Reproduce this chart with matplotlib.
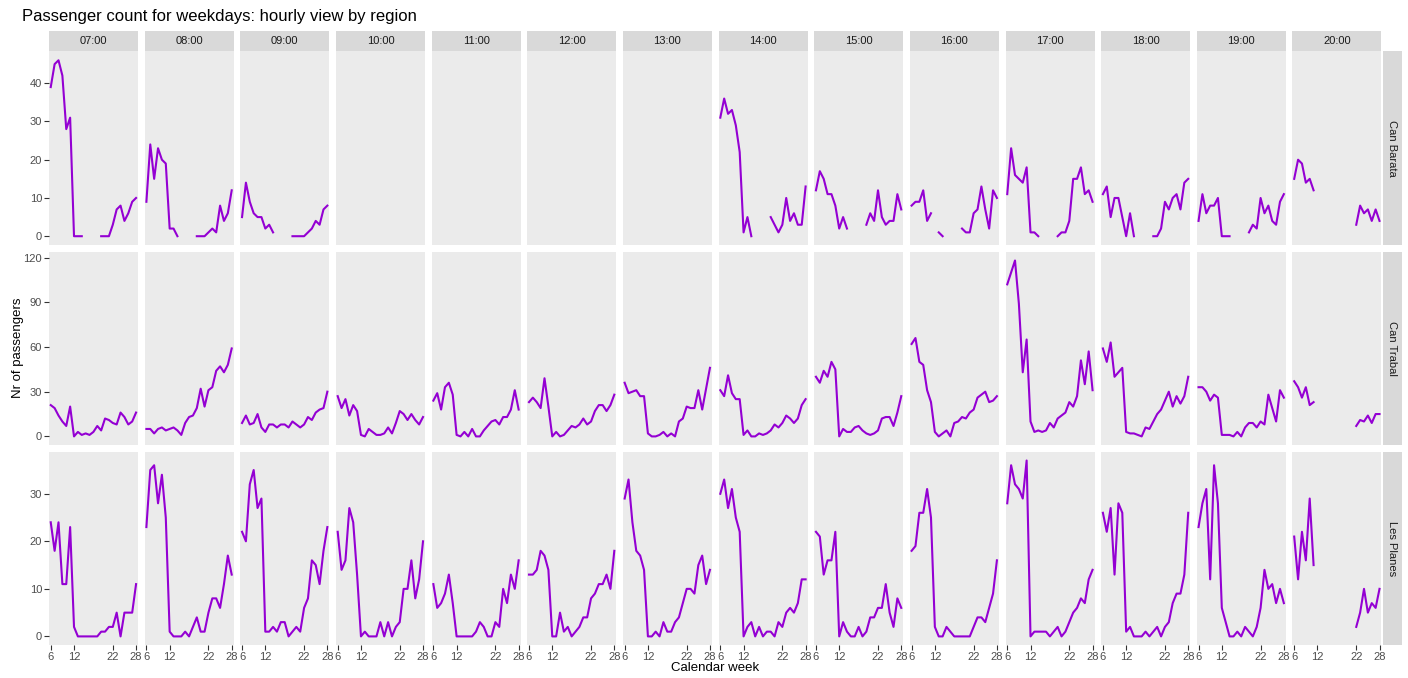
import numpy as np
import matplotlib
matplotlib.use('Agg')
import matplotlib.pyplot as plt

plt.rcParams['font.family'] = ['Liberation Sans', 'DejaVu Sans']

nan = np.nan

weeks = list(range(6, 29))
hours = ["07:00", "08:00", "09:00", "10:00", "11:00", "12:00", "13:00",
         "14:00", "15:00", "16:00", "17:00", "18:00", "19:00", "20:00"]
regions = ["Can Barata", "Can Trabal", "Les Planes"]

GAP4 = [nan] * 4
GAP10 = [nan] * 10
EMPTY = [nan] * 23

# one list per hour, values for weeks 6..28
can_barata = [
    [39, 45, 46, 42, 28, 31, 0, 0, 0] + GAP4 + [0, 0, 0, 3, 7, 8, 4, 6, 9, 10],
    [9, 24, 15, 23, 20, 19, 2, 2, 0] + GAP4 + [0, 0, 0, 1, 2, 1, 8, 4, 6, 12],
    [5, 14, 9, 6, 5, 5, 2, 3, 1] + GAP4 + [0, 0, 0, 0, 1, 2, 4, 3, 7, 8],
    EMPTY, EMPTY, EMPTY, EMPTY,
    [31, 36, 32, 33, 29, 22, 1, 5, 0] + GAP4 + [5, 3, 1, 3, 10, 4, 6, 3, 3, 13],
    [12, 17, 15, 11, 11, 8, 2, 5, 2] + GAP4 + [3, 6, 4, 12, 5, 3, 4, 4, 11, 7],
    [8, 9, 9, 12, 4, 6, nan, 1, 0] + GAP4 + [2, 1, 1, 6, 7, 13, 7, 2, 12, 10],
    [11, 23, 16, 15, 14, 18, 1, 1, 0] + GAP4 + [0, 1, 1, 4, 15, 15, 18, 11, 12, 9],
    [11, 13, 5, 10, 10, 5, 0, 6, 0] + GAP4 + [0, 0, 2, 9, 7, 10, 11, 7, 14, 15],
    [4, 11, 6, 8, 8, 10, 0, 0, 0] + GAP4 + [1, 3, 2, 10, 6, 8, 4, 3, 9, 11],
    [15, 20, 19, 14, 15, 12] + GAP10 + [3, 8, 6, 7, 4, 7, 4],
]

can_trabal = [
    [21, 19, 14, 10, 7, 20, 0, 3, 1, 2, 1, 3, 7, 4, 12, 11, 9, 8, 16, 13, 8, 10, 16],
    [5, 5, 2, 5, 6, 4, 5, 6, 4, 1, 9, 13, 14, 19, 32, 20, 31, 33, 44, 47, 43, 48, 59],
    [9, 14, 8, 9, 15, 6, 3, 8, 8, 6, 8, 8, 6, 10, 8, 6, 8, 13, 11, 16, 18, 19, 30],
    [27, 19, 25, 14, 21, 17, 1, 0, 5, 3, 1, 1, 2, 6, 2, 9, 17, 15, 11, 15, 11, 8, 13],
    [24, 29, 18, 33, 36, 28, 1, 0, 3, 0, 5, 0, 0, 4, 7, 10, 11, 8, 13, 13, 18, 31, 18],
    [23, 26, 23, 19, 39, 20, 0, 3, 0, 1, 4, 7, 6, 8, 12, 8, 10, 17, 21, 21, 17, 21, 28],
    [36, 29, 30, 31, 27, 27, 2, 0, 0, 1, 3, 0, 2, 0, 10, 12, 20, 19, 19, 31, 18, 32, 46],
    [31, 27, 41, 29, 25, 25, 1, 4, 0, 0, 2, 1, 2, 4, 8, 6, 9, 14, 12, 9, 12, 21, 25],
    [40, 36, 44, 40, 50, 45, 0, 5, 3, 3, 6, 7, 4, 2, 1, 2, 4, 12, 13, 13, 7, 16, 27],
    [62, 66, 50, 48, 31, 23, 3, 0, 2, 4, 0, 9, 10, 13, 12, 16, 18, 26, 28, 30, 23, 24, 27],
    [102, 110, 118, 89, 43, 65, 10, 3, 4, 3, 4, 9, 6, 12, 14, 16, 23, 20, 27, 51, 35, 57, 31],
    [59, 50, 63, 40, 43, 46, 3, 2, 2, 1, 0, 6, 5, 10, 15, 18, 24, 30, 20, 27, 22, 27, 40],
    [33, 33, 30, 24, 28, 26, 1, 1, 1, 0, 3, 0, 6, 9, 9, 6, 10, 8, 28, 19, 10, 31, 26],
    [37, 33, 26, 33, 21, 23] + GAP10 + [7, 11, 10, 14, 9, 15, 15],
]

les_planes = [
    [24, 18, 24, 11, 11, 23, 2, 0, 0, 0, 0, 0, 0, 1, 1, 2, 2, 5, 0, 5, 5, 5, 11],
    [23, 35, 36, 28, 34, 25, 1, 0, 0, 0, 1, 0, 2, 4, 1, 1, 5, 8, 8, 6, 11, 17, 13],
    [22, 20, 32, 35, 27, 29, 1, 1, 2, 1, 3, 3, 0, 1, 2, 1, 6, 8, 16, 15, 11, 18, 23],
    [22, 14, 16, 27, 24, 13, 0, 1, 0, 0, 0, 3, 0, 3, 0, 2, 3, 10, 10, 16, 8, 12, 20],
    [11, 6, 7, 9, 13, 7, 0, 0, 0, 0, 0, 1, 3, 2, 0, 0, 3, 2, 10, 7, 13, 10, 16],
    [13, 13, 14, 18, 17, 14, 0, 0, 5, 1, 2, 0, 1, 2, 4, 4, 8, 9, 11, 11, 13, 10, 18],
    [29, 33, 24, 18, 17, 14, 0, 0, 1, 0, 3, 1, 1, 3, 4, 7, 10, 10, 9, 15, 17, 11, 14],
    [30, 33, 27, 31, 25, 22, 0, 2, 3, 0, 2, 0, 1, 1, 0, 3, 2, 5, 6, 5, 7, 12, 12],
    [22, 21, 13, 16, 16, 22, 0, 3, 1, 0, 0, 2, 0, 1, 4, 4, 6, 6, 11, 5, 2, 8, 6],
    [18, 19, 26, 26, 31, 25, 2, 0, 0, 2, 1, 0, 0, 0, 0, 0, 2, 4, 4, 3, 6, 9, 16],
    [28, 36, 32, 31, 29, 37, 0, 1, 1, 1, 1, 0, 1, 2, 0, 1, 3, 5, 6, 8, 7, 12, 14],
    [26, 22, 27, 13, 28, 26, 1, 2, 0, 0, 0, 1, 0, 1, 2, 0, 2, 3, 7, 9, 9, 13, 26],
    [23, 28, 31, 12, 36, 28, 6, 3, 0, 0, 1, 0, 2, 1, 0, 2, 6, 14, 10, 11, 7, 10, 7],
    [21, 12, 22, 16, 29, 15] + GAP10 + [2, 5, 10, 5, 7, 6, 10],
]

data = [can_barata, can_trabal, les_planes]
yticks = [[0, 10, 20, 30, 40], [0, 30, 60, 90, 120], [0, 10, 20, 30]]
xticks = [6, 12, 22, 28]

for reg in data:
    for series in reg:
        assert len(series) == len(weeks), len(series)

# Layout (pixels)
W, H = 1408, 678
fig = plt.figure(figsize=(W / 100, H / 100), dpi=100)

PANEL_COLOR = "#EBEBEB"
STRIP_COLOR = "#D9D9D9"
LINE_COLOR = "#9400D3"

left0, pw, step = 49, 89, 95.65
row_top = [51.5, 251.7, 451.7]
ph = 193.5


def box(x, y, w, h):
    return [x / W, 1 - (y + h) / H, w / W, h / H]


for r, reg in enumerate(data):
    vals = np.array(reg, dtype=float)
    vmax = np.nanmax(vals)
    pad = vmax * 0.05
    for c, hour in enumerate(hours):
        x0 = left0 + c * step
        ax = fig.add_axes(box(x0, row_top[r], pw, ph))
        ax.set_facecolor(PANEL_COLOR)
        for s in ax.spines.values():
            s.set_visible(False)
        ax.plot(weeks, vals[c], color=LINE_COLOR, lw=1.5)
        ax.set_xlim(5.55, 28.5)
        ax.set_ylim(-pad, vmax + pad)
        ax.set_xticks(xticks)
        ax.set_yticks(yticks[r])
        ax.tick_params(length=3.5, width=0.8, color="#333333",
                       labelsize=8, labelcolor="#4D4D4D", pad=1.5)
        if c != 0:
            ax.tick_params(axis='y', left=False, labelleft=False)
        if r != 2:
            ax.tick_params(axis='x', bottom=False, labelbottom=False)

        if r == 0:
            sax = fig.add_axes(box(x0, 31, pw, 19.5))
            sax.set_facecolor(STRIP_COLOR)
            sax.set_xticks([])
            sax.set_yticks([])
            for s in sax.spines.values():
                s.set_visible(False)
            sax.text(0.5, 0.5, hour, ha='center', va='center',
                     fontsize=8, color="#1A1A1A", transform=sax.transAxes)

    sax = fig.add_axes(box(1382.5, row_top[r], 19.5, ph))
    sax.set_facecolor(STRIP_COLOR)
    sax.set_xticks([])
    sax.set_yticks([])
    for s in sax.spines.values():
        s.set_visible(False)
    sax.text(0.5, 0.5, regions[r], ha='center', va='center', rotation=-90,
             fontsize=8, color="#1A1A1A", transform=sax.transAxes)

fig.text(22 / W, 1 - 17 / H, "Passenger count for weekdays: hourly view by region",
         ha='left', va='center', fontsize=12, color="black")
fig.text(715 / W, 1 - 668 / H, "Calendar week", ha='center', va='center',
         fontsize=9.5, color="black")
fig.text(18 / W, 1 - 348 / H, "Nr of passengers", ha='center', va='center',
         rotation=90, fontsize=9.5, color="black")

fig.savefig("out.png", dpi=100, facecolor="white")
